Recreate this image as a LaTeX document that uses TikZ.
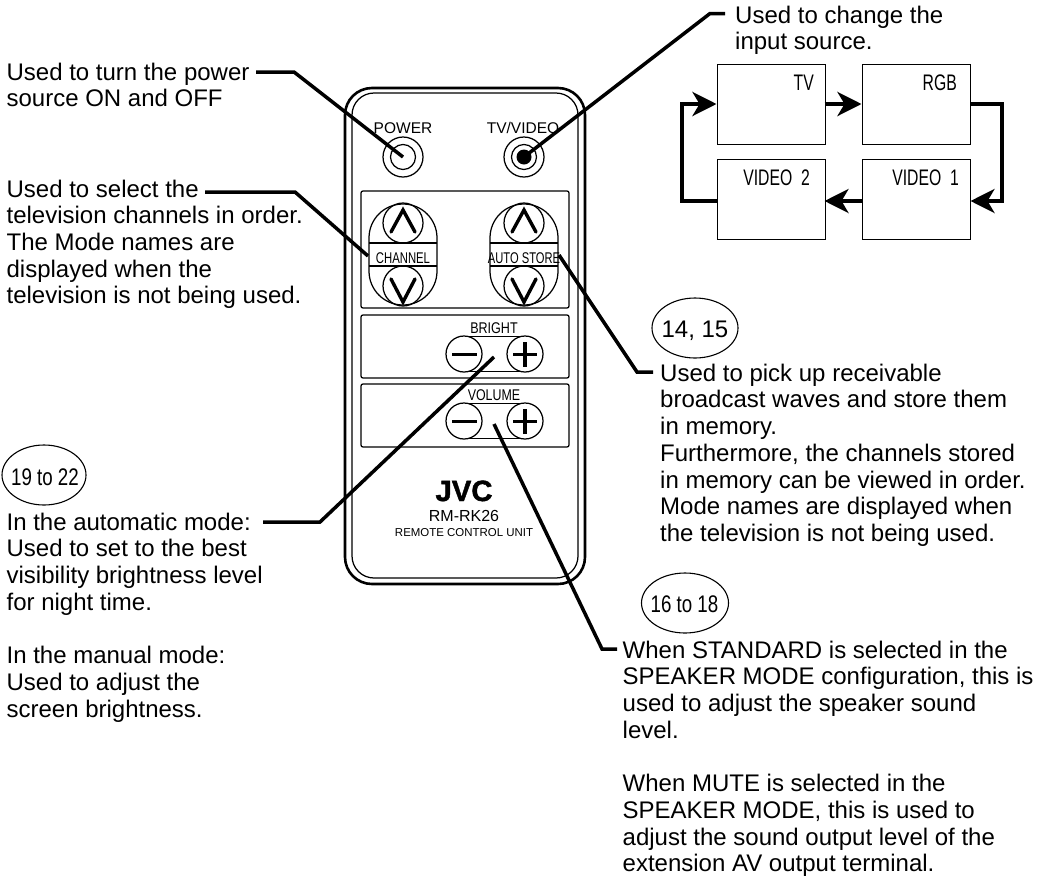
\documentclass[tikz,border=0pt]{standalone}
\usepackage{fontspec}
\usepackage{graphicx}
\usetikzlibrary{arrows.meta,shapes.geometric}
\setmainfont{Liberation Sans}
\newfontfamily\jvcfont[FakeBold=1.5]{Liberation Sans}
\newcommand{\nrw}[2]{\scalebox{#1}[1]{#2}}
\tikzset{
  txtblock/.style={anchor=north west,inner sep=0pt,align=left,font=\fontsize{24}{26.7}\selectfont},
  label/.style={anchor=base,inner sep=0pt,font=\fontsize{15.5}{18}\selectfont},
  boxlabel/.style={anchor=base east,inner sep=0pt,font=\fontsize{22.5}{26}\selectfont},
  ref/.style={draw,ellipse,line width=1.1pt,minimum width=#1,minimum height=60pt,inner sep=0pt},
  reftext/.style={anchor=base,inner sep=0pt,font=\fontsize{24}{26.7}\selectfont},
  leader/.style={line width=3.5pt,line join=miter},
  outline/.style={line width=1.25pt},
  srcbox/.style={draw,line width=1.1pt,anchor=north west,minimum width=108pt,minimum height=80pt,inner sep=0pt},
  flow/.style={line width=4pt,-{Stealth[length=24pt,width=24pt,inset=7pt]}},
  rbtn/.style={draw,circle,line width=1.25pt,inner sep=0pt,minimum size=#1},
  glyph/.style={line width=3.4pt,line cap=round},
}
\begin{document}
\begin{tikzpicture}[x=1pt,y=-1pt]
\useasboundingbox (0,0) rectangle (1041,876);
\fill[white] (0,0) rectangle (1041,876);

% remote body
\draw[line width=2.6pt,rounded corners=27pt] (345,88) rectangle (585,584);
\draw[outline,rounded corners=22pt] (352,93) rectangle (578,578);
\draw[outline,rounded corners=2pt] (361,191) rectangle (569,308);
\draw[outline,rounded corners=2pt] (361,315) rectangle (569,378);
\draw[outline,rounded corners=2pt] (361,384) rectangle (569,447);

% top buttons
\node[label] (powerlbl) at (403,133) {POWER};
\node[label] (tvlbl) at (523,133) {TV/VIDEO};
\node[rbtn=40pt] (power) at (403,157) {};
\node[rbtn=25pt] (powerin) at (403,157) {};
\node[rbtn=40pt] (tvv) at (524,157) {};
\node[rbtn=25pt] (tvvin) at (524,157) {};
\node[circle,fill=black,inner sep=0pt,minimum size=15pt] (tvvdot) at (524,157) {};

% channel capsule
\foreach \cx/\nm in {403/chan,524/auto}{
  \draw[outline,rounded corners=33.9pt] (\cx-34,204) rectangle (\cx+34,305);
  \draw[outline] (\cx-34,243) -- (\cx+34,243);
  \draw[outline] (\cx-34,266) -- (\cx+34,266);
  \node[rbtn=40pt] (\nm up) at (\cx,223) {};
  \node[rbtn=40pt] (\nm dn) at (\cx,286) {};
  \draw[glyph] (\cx-12,232) -- (\cx,210) -- (\cx+12,232);
  \draw[glyph] (\cx-12,279) -- (\cx,302) -- (\cx+12,279);
}
\node[label] (chanlbl) at (403,263) {\nrw{.73}{CHANNEL}};
\node[label] (autolbl) at (524,263) {\nrw{.72}{AUTO STORE}};

% bright / volume rockers
\foreach \cy/\nm in {354/bright,421/volume}{
  \draw[outline] (464,\cy-17.5) -- (525,\cy-17.5);
  \draw[outline] (464,\cy+17.5) -- (525,\cy+17.5);
  \node[rbtn=36pt,fill=white] (\nm minus) at (464,\cy) {};
  \node[rbtn=36pt,fill=white] (\nm plus) at (525,\cy) {};
  \draw[glyph,line cap=butt] (452,\cy+.5) -- (477,\cy+.5);
  \draw[glyph,line cap=butt] (513,\cy+.5) -- (537,\cy+.5);
  \draw[glyph,line cap=butt] (525,\cy-12) -- (525,\cy+13);
  \coordinate (\nm mid) at (494,\cy+3);
}
\node[label] (brightlbl) at (494,333) {\nrw{.81}{BRIGHT}};
\node[label] (volumelbl) at (494,400) {\nrw{.8}{VOLUME}};

% brand
\node[anchor=base,inner sep=0pt,font=\fontsize{29.3}{32}\selectfont\jvcfont\bfseries] (jvc) at (464,501) {JVC};
\node[anchor=base,inner sep=0pt,font=\fontsize{16}{18}\selectfont] (model) at (464,521) {RM-RK26};
\node[anchor=base,inner sep=0pt,font=\fontsize{11.45}{14}\selectfont] (unit) at (464,536) {REMOTE CONTROL UNIT};

% text blocks
\node[txtblock] (t1) at (6.4,62.6) {Used to turn the power\\source ON and OFF};
\node[txtblock] (t2) at (6.4,179.6) {Used to select the\\television channels in order.\\The Mode names are\\displayed when the\\television is not being used.};
\node[txtblock] (t3) at (6.4,512.6) {In the automatic mode:\\Used to set to the best\\visibility brightness level\\for night time.\\[26.7pt]In the manual mode:\\Used to adjust the\\screen brightness.};
\node[txtblock] (t4) at (660,363.6) {Used to pick up receivable\\broadcast waves and store them\\in memory.\\Furthermore, the channels stored\\in memory can be viewed in order.\\Mode names are displayed when\\the television is not being used.};
\node[txtblock] (t5) at (622.5,640.6) {When STANDARD is selected in the\\SPEAKER MODE configuration, this is\\used to adjust the speaker sound\\level.\\[26.7pt]When MUTE is selected in the\\SPEAKER MODE, this is used to\\adjust the sound output level of the\\extension AV output terminal.};
\node[txtblock] (t6) at (735,5.6) {Used to change the\\input source.};

% reference ellipses
\node[ref=84pt] (r1) at (44,475) {};
\node[reftext] (r1t) at (45,485) {\nrw{.78}{19 to 22}};
\node[ref=86pt] (r2) at (695,328) {};
\node[reftext] (r2t) at (695,337) {14, 15};
\node[ref=87pt] (r3) at (685,603) {};
\node[reftext] (r3t) at (684.5,612) {\nrw{.78}{16 to 18}};

% input source boxes
\node[srcbox] (tv) at (717,64) {};
\node[srcbox] (rgb) at (862,64) {};
\node[srcbox] (v2) at (717,159) {};
\node[srcbox] (v1) at (862,159) {};
\node[boxlabel] (tvl) at (814,90) {\nrw{.7}{TV}};
\node[boxlabel] (rgbl) at (957,90) {\nrw{.7}{RGB}};
\node[boxlabel] (v2l) at (810,185) {\nrw{.7}{VIDEO\ \ 2}};
\node[boxlabel] (v1l) at (959,185) {\nrw{.7}{VIDEO\ \ 1}};

\draw[flow] (824.5,104) -- (861.5,104);
\draw[flow] (970.5,104) -- (1002,104) -- (1002,201) -- (970.5,201);
\draw[flow] (861.5,201) -- (824.5,201);
\draw[flow] (716.5,201) -- (682,201) -- (682,104) -- (716.5,104);

% leader lines
\coordinate (l1a) at (256,72); \coordinate (l1b) at (294,72);
\draw[leader] (l1a) -- (l1b) -- (power.center);
\coordinate (l2a) at (205,192); \coordinate (l2b) at (295,192); \coordinate (l2c) at (368,256);
\draw[leader] (l2a) -- (l2b) -- (l2c);
\coordinate (l3a) at (653,372); \coordinate (l3b) at (637,372); \coordinate (l3c) at (559,255);
\draw[leader] (l3a) -- (l3b) -- (l3c);
\coordinate (l4a) at (725,13.5); \coordinate (l4b) at (710,13.5);
\draw[leader] (l4a) -- (l4b) -- (tvv.center);
\coordinate (l5a) at (263,522); \coordinate (l5b) at (320,522);
\draw[leader] (l5a) -- (l5b) -- (brightmid);
\coordinate (l6a) at (617,649); \coordinate (l6b) at (602,649);
\draw[leader] (l6a) -- (l6b) -- (volumemid);
\end{tikzpicture}
\end{document}
